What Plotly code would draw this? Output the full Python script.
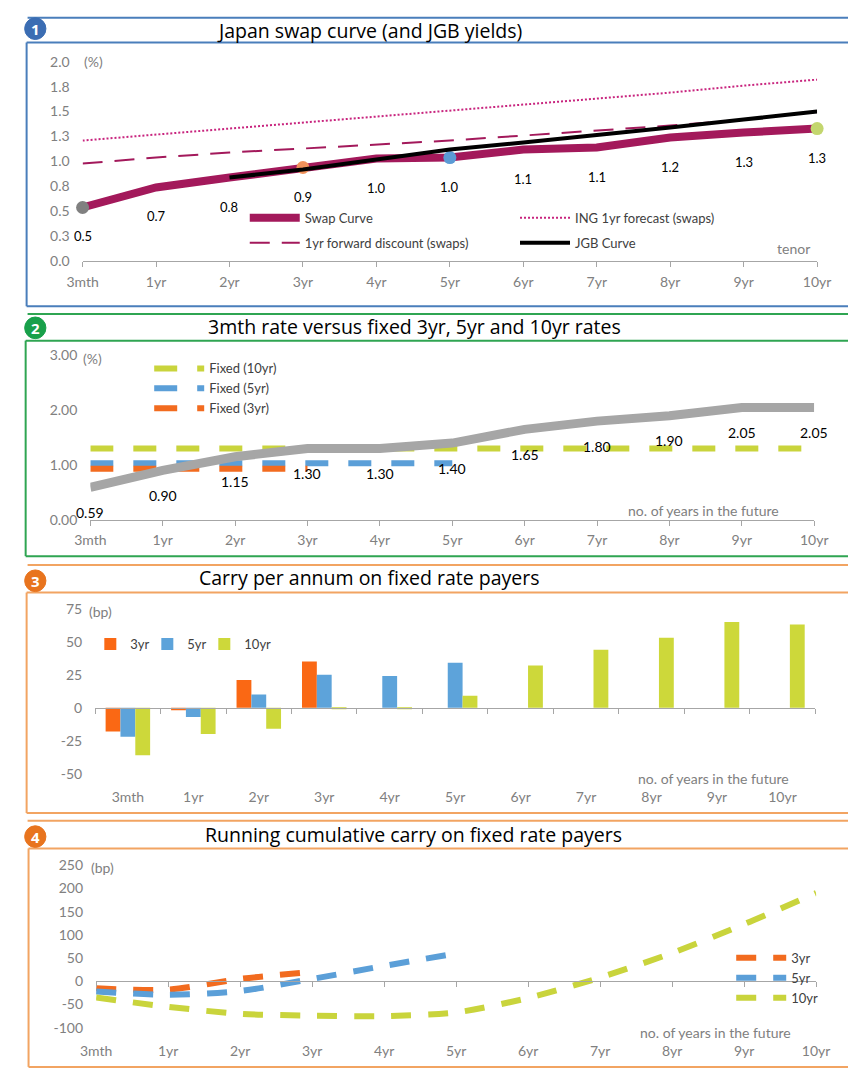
import plotly.graph_objects as go

W, H = 862, 1068

tenors = ["3mth", "1yr", "2yr", "3yr", "4yr", "5yr", "6yr", "7yr", "8yr", "9yr", "10yr"]

# Panel 1: Japan swap curve (and JGB yields), %
swap_curve = [0.54, 0.74, 0.84, 0.94, 1.03, 1.04, 1.12, 1.14, 1.24, 1.29, 1.33]
fwd_discount = [0.98, 1.04, 1.09, 1.13, 1.17, 1.21, 1.26, 1.31, 1.36, 1.42, 1.50]
ing_forecast = [1.21, 1.27, 1.33, 1.39, 1.45, 1.51, 1.57, 1.63, 1.69, 1.76, 1.82]
jgb_curve = [None, None, 0.84, 0.92, 1.02, 1.12, 1.19, 1.26, 1.34, 1.42, 1.50]
swap_marker_tenors = ["3mth", "3yr", "5yr", "10yr"]
swap_marker_colors = ["#808080", "#F0915A", "#5B9BD5", "#C3D66E"]
p1_ytickvals = [0, 0.25, 0.5, 0.75, 1.0, 1.25, 1.5, 1.75, 2.0]
p1_yticktext = ["0.0", "0.3", "0.5", "0.8", "1.0", "1.3", "1.5", "1.8", "2.0"]

# Panel 2: 3mth rate versus fixed rates, %
rate_3m = [0.59, 0.90, 1.15, 1.30, 1.30, 1.40, 1.65, 1.80, 1.90, 2.05, 2.05]
fixed_3yr = [0.93, 0.93, 0.93, 0.93]
fixed_5yr = [1.03, 1.03, 1.03, 1.03, 1.03, 1.03]
fixed_10yr = [1.30, 1.30, 1.30, 1.30, 1.30, 1.30, 1.30, 1.30, 1.30, 1.30, 1.30]
p2_ytickvals = [0, 1, 2, 3]
p2_yticktext = ["0.00", "1.00", "2.00", "3.00"]

# Panel 3: carry per annum, bp
carry_3yr = [-18, -2, 21, 35, None, None, None, None, None, None, None]
carry_5yr = [-22, -7, 10, 25, 24, 34, None, None, None, None, None]
carry_10yr = [-36, -20, -16, -1, -1, 9, 32, 44, 53, 65, 63]
p3_ytickvals = [-50, -25, 0, 25, 50, 75]
p3_yticktext = ["-50", "-25", "0", "25", "50", "75"]

# Panel 4: running cumulative carry, bp
cum_3yr = [-15, -18, 5, 20]
cum_5yr = [-22, -29, -21, 5, 33, 60]
cum_10yr = [-35, -55, -70, -74, -75, -67, -36, 8, 61, 123, 190]
p4_ytickvals = [-100, -50, 0, 50, 100, 150, 200, 250]
p4_yticktext = ["-100", "-50", "0", "50", "100", "150", "200", "250"]

FONT = "Lato"
TITLE_FONT = "Open Sans"
GRAY = "#808080"
AXIS = "#A6A6A6"
PURPLE = "#A3195B"
PINK = "#C8247E"
ORANGE = "#F26B1F"
BLUE = "#5B9FD8"
LIME = "#C9D43C"
BAR_ORANGE = "#FA6814"
BAR_BLUE = "#5DA3DA"
BAR_LIME = "#CDD83A"


def fx(px):
    return px / W


def fy(py):
    return 1 - py / H


fig = go.Figure()

# ---------- panel 1 ----------
fig.add_trace(go.Scatter(x=tenors, y=fwd_discount, mode="lines", name="1yr forward discount (swaps)",
                         line=dict(color=PURPLE, width=2, dash="20px,12px"), legendgroup="fwd",
                         xaxis="x", yaxis="y", legend="legend", legendrank=2, hoverinfo="skip"))
fig.add_trace(go.Scatter(x=tenors, y=ing_forecast, mode="lines", name="ING 1yr forecast (swaps)",
                         line=dict(color=PINK, width=2, dash="2px,2px"), legendgroup="ing",
                         xaxis="x", yaxis="y", legend="legend2", legendrank=1, hoverinfo="skip"))
fig.add_trace(go.Scatter(x=tenors, y=swap_curve, mode="lines", name="Swap Curve",
                         line=dict(color=PURPLE, width=8), legendgroup="swap",
                         xaxis="x", yaxis="y", legend="legend", legendrank=1, hoverinfo="skip"))
fig.add_trace(go.Scatter(x=swap_marker_tenors,
                         y=[swap_curve[tenors.index(t)] for t in swap_marker_tenors],
                         mode="markers", marker=dict(size=13, color=swap_marker_colors),
                         cliponaxis=False, showlegend=False, xaxis="x", yaxis="y", hoverinfo="skip"))
fig.add_trace(go.Scatter(x=tenors, y=jgb_curve, mode="lines", name="JGB Curve",
                         line=dict(color="black", width=4), legendgroup="jgb",
                         xaxis="x", yaxis="y", legend="legend2", legendrank=2, hoverinfo="skip"))

# ---------- panel 2 ----------
fig.add_trace(go.Scatter(x=tenors[:len(fixed_10yr)], y=fixed_10yr, mode="lines", name="Fixed (10yr)",
                         line=dict(color=LIME, width=6, dash="23px,20px"),
                         xaxis="x2", yaxis="y2", legend="legend3", legendrank=1, hoverinfo="skip"))
fig.add_trace(go.Scatter(x=tenors[:len(fixed_5yr)], y=fixed_5yr, mode="lines", name="Fixed (5yr)",
                         line=dict(color=BLUE, width=6, dash="23px,20px"),
                         xaxis="x2", yaxis="y2", legend="legend3", legendrank=2, hoverinfo="skip"))
fig.add_trace(go.Scatter(x=tenors[:len(fixed_3yr)], y=fixed_3yr, mode="lines", name="Fixed (3yr)",
                         line=dict(color=ORANGE, width=6, dash="23px,20px"),
                         xaxis="x2", yaxis="y2", legend="legend3", legendrank=3, hoverinfo="skip"))
fig.add_trace(go.Scatter(x=tenors, y=rate_3m, mode="lines", name="3mth",
                         line=dict(color="#A6A6A6", width=9), showlegend=False,
                         xaxis="x2", yaxis="y2", hoverinfo="skip"))

# ---------- panel 3 ----------
for name, vals, col, lw in [("3yr", carry_3yr, BAR_ORANGE, 12), ("5yr", carry_5yr, BAR_BLUE, 12),
                            ("10yr", carry_10yr, BAR_LIME, 34)]:
    fig.add_trace(go.Bar(x=tenors, y=vals, name=name, marker=dict(color=col, line=dict(width=0)),
                         legendwidth=lw, xaxis="x3", yaxis="y3", legend="legend4", hoverinfo="skip"))

# ---------- panel 4 ----------
for name, vals, col in [("3yr", cum_3yr, ORANGE), ("5yr", cum_5yr, BLUE), ("10yr", cum_10yr, LIME)]:
    fig.add_trace(go.Scatter(x=tenors[:len(vals)], y=vals, mode="lines", name=name,
                             line=dict(color=col, width=6, dash="20px,17px", shape="spline", smoothing=0.8),
                             xaxis="x4", yaxis="y4", legend="legend5", hoverinfo="skip"))

# helper traces so the zero-line axes exist
fig.add_trace(go.Scatter(x=[None], y=[None], xaxis="x5", yaxis="y3", showlegend=False, hoverinfo="skip"))
fig.add_trace(go.Scatter(x=[None], y=[None], xaxis="x6", yaxis="y4", showlegend=False, hoverinfo="skip"))

tickfont = dict(family=FONT, size=14, color=GRAY)


def cat_axis(x0, x1, anchor, rng, standoff, line=True):
    return dict(domain=[fx(x0), fx(x1)], anchor=anchor, type="category", range=rng,
                showgrid=False, zeroline=False, showline=line, linecolor=AXIS, linewidth=1,
                ticks="outside" if line else "", ticklen=5, tickcolor=AXIS,
                ticklabelstandoff=standoff, tickfont=tickfont, fixedrange=True)


def val_axis(top, bottom, anchor, rng, vals, text):
    return dict(domain=[fy(bottom), fy(top)], anchor=anchor, range=rng, tickvals=vals, ticktext=text,
                showgrid=False, zeroline=False, showline=False, ticks="", ticklabelstandoff=12,
                tickfont=tickfont, fixedrange=True)


# pixel geometry of each plot area
P1 = dict(x0=69, x1=830, top=53.5, bottom=256.5)
P2 = dict(x0=77, x1=827, top=352, bottom=519)
P3 = dict(x0=82, x1=828, top=602.8, bottom=790.4, zero=710)
P4 = dict(x0=83, x1=829, top=865.3, bottom=1044.6, zero=988)

layout_axes = dict(
    xaxis=cat_axis(P1["x0"], P1["x1"], "y", [0, 10], 3),
    yaxis=val_axis(P1["top"], P1["bottom"], "x", [0, 2], p1_ytickvals, p1_yticktext),
    xaxis2=cat_axis(P2["x0"], P2["x1"], "y2", [0, 10], 2),
    yaxis2=val_axis(P2["top"], P2["bottom"], "x2", [0, 3], p2_ytickvals, p2_yticktext),
    xaxis3=cat_axis(P3["x0"], P3["x1"], "y3", [-0.5, 10.5], 0, line=False),
    yaxis3=val_axis(P3["top"], P3["bottom"], "x3", [-60, 80], p3_ytickvals, p3_yticktext),
    xaxis4=cat_axis(P4["x0"], P4["x1"], "y4", [0, 10], 4, line=False),
    yaxis4=val_axis(P4["top"], P4["bottom"], "x4", [-120, 260], p4_ytickvals, p4_yticktext),
    xaxis5=dict(overlaying="x3", anchor="free", position=fy(P3["zero"]), range=[-0.5, 10.5],
                tickvals=[i - 0.5 for i in range(len(tenors) + 1)], showticklabels=False,
                showgrid=False, zeroline=False, showline=True, linecolor=AXIS, ticks="outside",
                ticklen=5, tickcolor=AXIS, fixedrange=True),
    xaxis6=dict(overlaying="x4", anchor="free", position=fy(P4["zero"]), range=[0, 10],
                tickvals=list(range(len(tenors))), showticklabels=False,
                showgrid=False, zeroline=False, showline=True, linecolor=AXIS, ticks="outside",
                ticklen=5, tickcolor=AXIS, fixedrange=True),
)

legend_font = dict(family=FONT, size=13, color="#404040")


def legend_box(x, y, orientation="v", gap=5, itemwidth=50, order="normal"):
    return dict(x=fx(x), y=fy(y), xanchor="left", yanchor="top", orientation=orientation,
                bgcolor="rgba(0,0,0,0)", borderwidth=0, font=legend_font, itemwidth=itemwidth,
                tracegroupgap=gap, traceorder=order, itemclick=False, itemdoubleclick=False)


# ---------- annotations ----------
ann = []
for t, v in zip(tenors, swap_curve):
    ann.append(dict(x=t, y=v, xref="x", yref="y", text=f"{v:.1f}", showarrow=False, yshift=-29,
                    font=dict(family=FONT, size=13, color="black")))
for t, v in zip(tenors, rate_3m):
    ann.append(dict(x=t, y=v, xref="x2", yref="y2", text=f"{v:.2f}", showarrow=False, yshift=-25,
                    font=dict(family=FONT, size=14, color="black")))

small = dict(family=FONT, size=14, color=GRAY)
for txt, x, y in [("(%)", 80, 53), ("(%)", 79, 355), ("(bp)", 88, 612), ("(bp)", 90, 872),
                  ("tenor", 806, 243),
                  ("no. of years in the future", 712, 510),
                  ("no. of years in the future", 723, 782),
                  ("no. of years in the future", 725, 1040)]:
    ann.append(dict(x=fx(x), y=fy(y), xref="paper", yref="paper", text=txt, showarrow=False,
                    xanchor="center", yanchor="middle", font=small))

titles = [("Japan swap curve (and JGB yields)", 366, 22),
          ("3mth rate versus fixed 3yr, 5yr and 10yr rates", 413, 323),
          ("Carry per annum on fixed rate payers", 366, 578),
          ("Running cumulative carry on fixed rate payers", 412, 839)]
for txt, x, y in titles:
    ann.append(dict(x=fx(x), y=fy(y), xref="paper", yref="paper", text=txt, showarrow=False,
                    xanchor="center", yanchor="middle",
                    font=dict(family=TITLE_FONT, size=19.5, color="black")))

# ---------- panel frames and badges ----------
shapes = []
frames = [
    # colour, top line, title underline, left edge x, bottom line, badge centre y, badge colour, number
    ("#4A7EBB", 9, 34, 11, 302, 20, "#3B6DB3", "1"),
    ("#2FA552", 310, 337, 10, 556, 324, "#18A04A", "2"),
    ("#F2A462", 565, 593, 11, 817, 581, "#E8741E", "3"),
    ("#F2A462", 825, 853, 13, 1075, 841, "#E8741E", "4"),
]
for col, top, sub, lx, bot, by, bcol, num in frames:
    line = dict(color=col, width=2)
    shapes.append(dict(type="line", xref="paper", yref="paper", x0=fx(12), x1=1, y0=fy(top), y1=fy(top), line=line))
    shapes.append(dict(type="line", xref="paper", yref="paper", x0=fx(lx), x1=1, y0=fy(sub), y1=fy(sub), line=line))
    shapes.append(dict(type="line", xref="paper", yref="paper", x0=fx(lx), x1=fx(lx), y0=fy(sub), y1=fy(bot), line=line))
    shapes.append(dict(type="line", xref="paper", yref="paper", x0=fx(lx), x1=1, y0=fy(bot), y1=fy(bot), line=line))
    shapes.append(dict(type="circle", xref="paper", yref="paper", x0=fx(9), x1=fx(31),
                       y0=fy(by + 11), y1=fy(by - 11), fillcolor=bcol, line=dict(color=bcol, width=1)))
    ann.append(dict(x=fx(20), y=fy(by), xref="paper", yref="paper", text=f"<b>{num}</b>", showarrow=False,
                    xanchor="center", yanchor="middle", font=dict(family=TITLE_FONT, size=15, color="white")))

fig.update_layout(
    width=W, height=H, margin=dict(l=0, r=0, t=0, b=0),
    paper_bgcolor="white", plot_bgcolor="white",
    barmode="group", bargap=0.32, bargroupgap=0,
    showlegend=True,
    legend=legend_box(237, 197, gap=5, order="grouped"),
    legend2=legend_box(517, 197, gap=5, order="grouped"),
    legend3=legend_box(138, 350, gap=1),
    legend4=legend_box(77, 630, orientation="h", itemwidth=30),
    legend5=legend_box(741, 949, gap=0),
    annotations=ann, shapes=shapes,
    **layout_axes,
)

fig.write_html("out.html")
